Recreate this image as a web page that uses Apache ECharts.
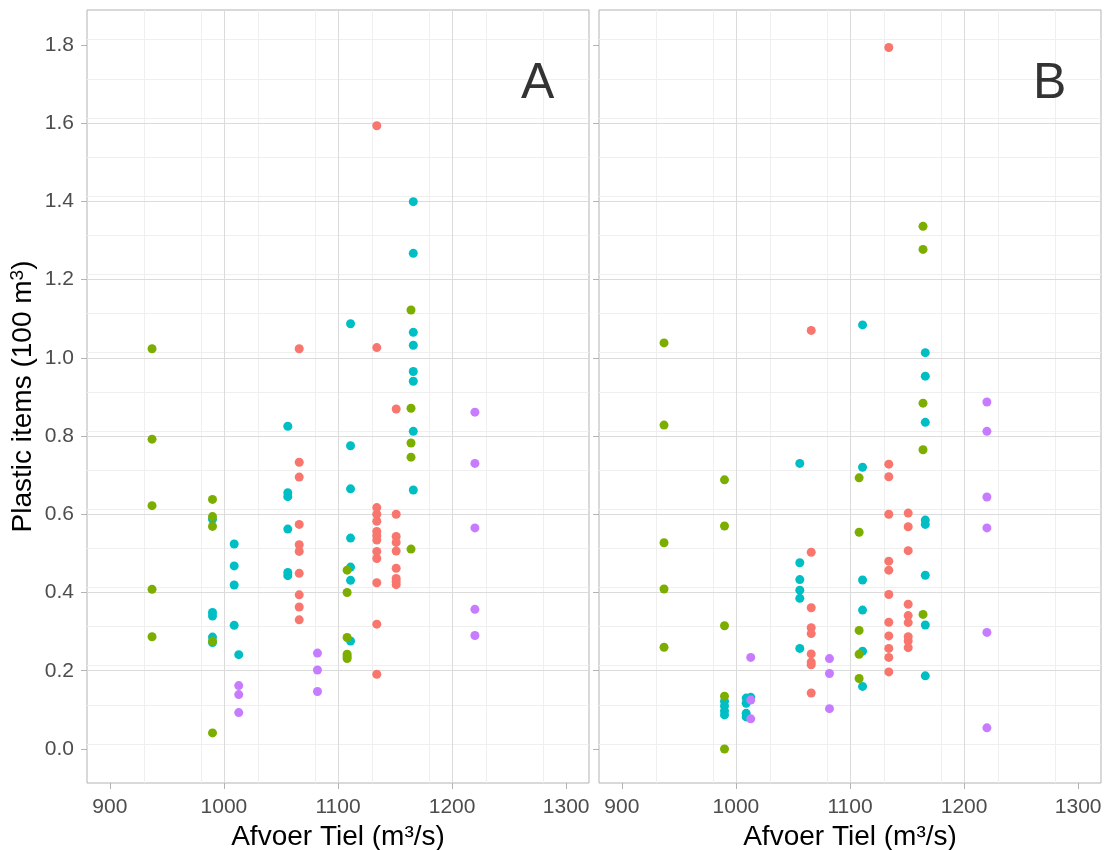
<!DOCTYPE html>
<html>
<head>
<meta charset="utf-8">
<script src="https://cdn.jsdelivr.net/npm/echarts@6/dist/echarts.min.js"></script>
<style>
html,body{margin:0;padding:0;background:#ffffff;}
#chart{width:1109px;height:850px;}
</style>
</head>
<body>
<div id="chart"></div>
<script>
// ---------- data ----------
const xTickValues = [900, 1000, 1100, 1200, 1300];
const yTickValues = [0, 0.2, 0.4, 0.6, 0.8, 1.0, 1.2, 1.4, 1.6, 1.8];
const panelLabels = ['A', 'B'];
const panelLabelPos = [1275, 1.7];
const xTitle = 'Afvoer Tiel (m³/s)';
const yTitle = 'Plastic items (100 m{sup|3})';

// Panel A
const redA = [[1066,1.023],[1066,0.733],[1066,0.695],[1066,0.574],[1066,0.522],[1066,0.505],[1066,0.449],[1066,0.394],[1066,0.363],[1066,0.330],
  [1134,1.593],[1134,1.026],[1134,0.617],[1134,0.600],[1134,0.582],[1134,0.556],[1134,0.545],[1134,0.534],[1134,0.505],[1134,0.487],[1134,0.425],[1134,0.319],[1134,0.191],
  [1151,0.869],[1151,0.600],[1151,0.543],[1151,0.528],[1151,0.506],[1151,0.462],[1151,0.436],[1151,0.428],[1151,0.420]];
const greenA = [[937,1.023],[937,0.792],[937,0.622],[937,0.408],[937,0.287],
  [990,0.638],[990,0.594],[990,0.569],[990,0.276],[990,0.041],
  [1108,0.457],[1108,0.400],[1108,0.285],[1108,0.242],[1108,0.236],[1108,0.231],
  [1164,1.122],[1164,0.871],[1164,0.782],[1164,0.746],[1164,0.511]];
const cyanA = [[990,0.587],[990,0.349],[990,0.340],[990,0.286],[990,0.272],
  [1009,0.524],[1009,0.468],[1009,0.419],[1009,0.316],[1013,0.241],
  [1056,0.825],[1056,0.655],[1056,0.645],[1056,0.562],[1056,0.451],[1056,0.443],
  [1111,1.087],[1111,0.775],[1111,0.665],[1111,0.539],[1111,0.465],[1111,0.431],[1111,0.276],
  [1166,1.399],[1166,1.267],[1166,1.065],[1166,1.032],[1166,0.965],[1166,0.940],[1166,0.812],[1166,0.662]];
const purpleA = [[1013,0.162],[1013,0.139],[1013,0.093],[1082,0.245],[1082,0.202],[1082,0.147],
  [1220,0.861],[1220,0.730],[1220,0.565],[1220,0.357],[1220,0.290]];

// Panel B
const redB = [[1066,1.070],[1066,0.503],[1066,0.361],[1066,0.310],[1066,0.295],[1066,0.243],[1066,0.222],[1066,0.215],[1066,0.143],
  [1134,1.793],[1134,0.728],[1134,0.696],[1134,0.600],[1134,0.480],[1134,0.457],[1134,0.395],[1134,0.324],[1134,0.289],[1134,0.257],[1134,0.234],[1134,0.197],
  [1151,0.603],[1151,0.568],[1151,0.507],[1151,0.370],[1151,0.341],[1151,0.323],[1151,0.287],[1151,0.276],[1151,0.259]];
const greenB = [[937,1.038],[937,0.828],[937,0.527],[937,0.409],[937,0.260],
  [990,0.688],[990,0.570],[990,0.315],[990,0.135],[990,0.000],
  [1108,0.693],[1108,0.554],[1108,0.303],[1108,0.242],[1108,0.180],
  [1164,1.336],[1164,1.277],[1164,0.884],[1164,0.765],[1164,0.344]];
const cyanB = [[990,0.122],[990,0.110],[990,0.097],[990,0.087],
  [1009,0.130],[1009,0.117],[1009,0.091],[1009,0.082],[1013,0.132],
  [1056,0.730],[1056,0.476],[1056,0.433],[1056,0.406],[1056,0.385],[1056,0.257],
  [1111,1.084],[1111,0.720],[1111,0.432],[1111,0.355],[1111,0.250],[1111,0.160],
  [1166,1.013],[1166,0.953],[1166,0.835],[1166,0.585],[1166,0.574],[1166,0.444],[1166,0.317],[1166,0.187]];
const purpleB = [[1013,0.234],[1013,0.125],[1013,0.077],[1082,0.231],[1082,0.193],[1082,0.103],
  [1220,0.887],[1220,0.812],[1220,0.644],[1220,0.565],[1220,0.298],[1220,0.054]];

// ---------- styling ----------
const FONT = 'Liberation Sans, Arial, Helvetica, sans-serif';
const X_MIN = 880, X_MAX = 1320;
const Y_MIN = -0.087, Y_MAX = 1.889;
const COL = {red:'#F8766D', green:'#7CAE00', cyan:'#00BFC4', purple:'#C77CFF'};
const BORDER = '#B3B3B3', MAJOR = '#DBDBDB', MINOR = '#EFEFEF';

const grids = [
  {left:87, top:10, width:502, height:773},
  {left:599, top:10, width:502, height:773}
].map(g => Object.assign(g, {show:true, borderColor:BORDER, borderWidth:1, backgroundColor:'#ffffff',
  containLabel:false, outerBoundsMode:'none'}));

function mainX(gi){
  return {
    gridIndex:gi, type:'value', min:X_MIN, max:X_MAX, interval:100, z:3,
    axisLine:{show:false, onZero:false},
    axisTick:{show:true, length:6, lineStyle:{color:BORDER, width:1}, customValues:xTickValues},
    axisLabel:{show:true, customValues:xTickValues,
      color:'#4D4D4D', fontSize:21, fontFamily:FONT, margin:14,
      formatter: v => (Math.abs(v % 100) < 1e-6 ? String(v) : '')},
    splitLine:{show:true, showMinLine:false, showMaxLine:false, lineStyle:{color:MAJOR, width:1}},
    name:xTitle, nameLocation:'middle', nameGap:39,
    nameTextStyle:{fontSize:28, color:'#000000', fontFamily:FONT}
  };
}
function minorX(gi){
  return {
    gridIndex:gi, type:'value', min:X_MIN, max:X_MAX, interval:50, z:1,
    axisLine:{show:false, onZero:false}, axisTick:{show:false}, axisLabel:{show:false},
    splitLine:{show:true, showMinLine:false, showMaxLine:false, lineStyle:{color:MINOR, width:1}}
  };
}
function mainY(gi){
  return {
    gridIndex:gi, type:'value', min:Y_MIN, max:Y_MAX, interval:0.2, z:3,
    axisLine:{show:false, onZero:false},
    axisTick:{show:true, length:6, lineStyle:{color:BORDER, width:1}, customValues:yTickValues},
    axisLabel:{show: gi === 0, customValues:yTickValues,
      color:'#4D4D4D', fontSize:21, fontFamily:FONT, margin:13,
      formatter: v => v.toFixed(1)},
    splitLine:{show:true, showMinLine:false, showMaxLine:false, lineStyle:{color:MAJOR, width:1}},
    name: gi === 0 ? yTitle : '', nameLocation:'middle', nameGap:49, nameRotate:90,
    nameTextStyle:{fontSize:28, color:'#000000', fontFamily:FONT,
      rich:{sup:{fontSize:19, color:'#000000', fontFamily:FONT, verticalAlign:'top', lineHeight:30}}}
  };
}
function minorY(gi){
  return {
    gridIndex:gi, type:'value', min:Y_MIN, max:Y_MAX, interval:0.1, z:1,
    axisLine:{show:false, onZero:false}, axisTick:{show:false}, axisLabel:{show:false},
    splitLine:{show:true, showMinLine:false, showMaxLine:false, lineStyle:{color:MINOR, width:1}}
  };
}

function pts(data, color, gi){
  return {type:'scatter', xAxisIndex:gi, yAxisIndex:gi, data:data, symbol:'circle', symbolSize:9,
    itemStyle:{color:color, opacity:1}, silent:true, animation:false, z:5};
}
function panelLabel(gi){
  return {type:'scatter', xAxisIndex:gi, yAxisIndex:gi, data:[panelLabelPos], symbolSize:0, silent:true, animation:false, z:6,
    label:{show:true, position:'inside', formatter:panelLabels[gi], fontSize:50, color:'#000000', fontFamily:FONT}};
}

const option = {
  backgroundColor:'#ffffff',
  animation:false,
  grid:grids,
  xAxis:[mainX(0), mainX(1), minorX(0), minorX(1)],
  yAxis:[mainY(0), mainY(1), minorY(0), minorY(1)],
  series:[
    pts(redA, COL.red, 0), pts(cyanA, COL.cyan, 0), pts(purpleA, COL.purple, 0), pts(greenA, COL.green, 0),
    pts(redB, COL.red, 1), pts(cyanB, COL.cyan, 1), pts(purpleB, COL.purple, 1), pts(greenB, COL.green, 1),
    panelLabel(0), panelLabel(1)
  ]
};
const chart = echarts.init(document.getElementById('chart'), null, {renderer:'canvas'});
chart.setOption(option);
</script>
</body>
</html>
